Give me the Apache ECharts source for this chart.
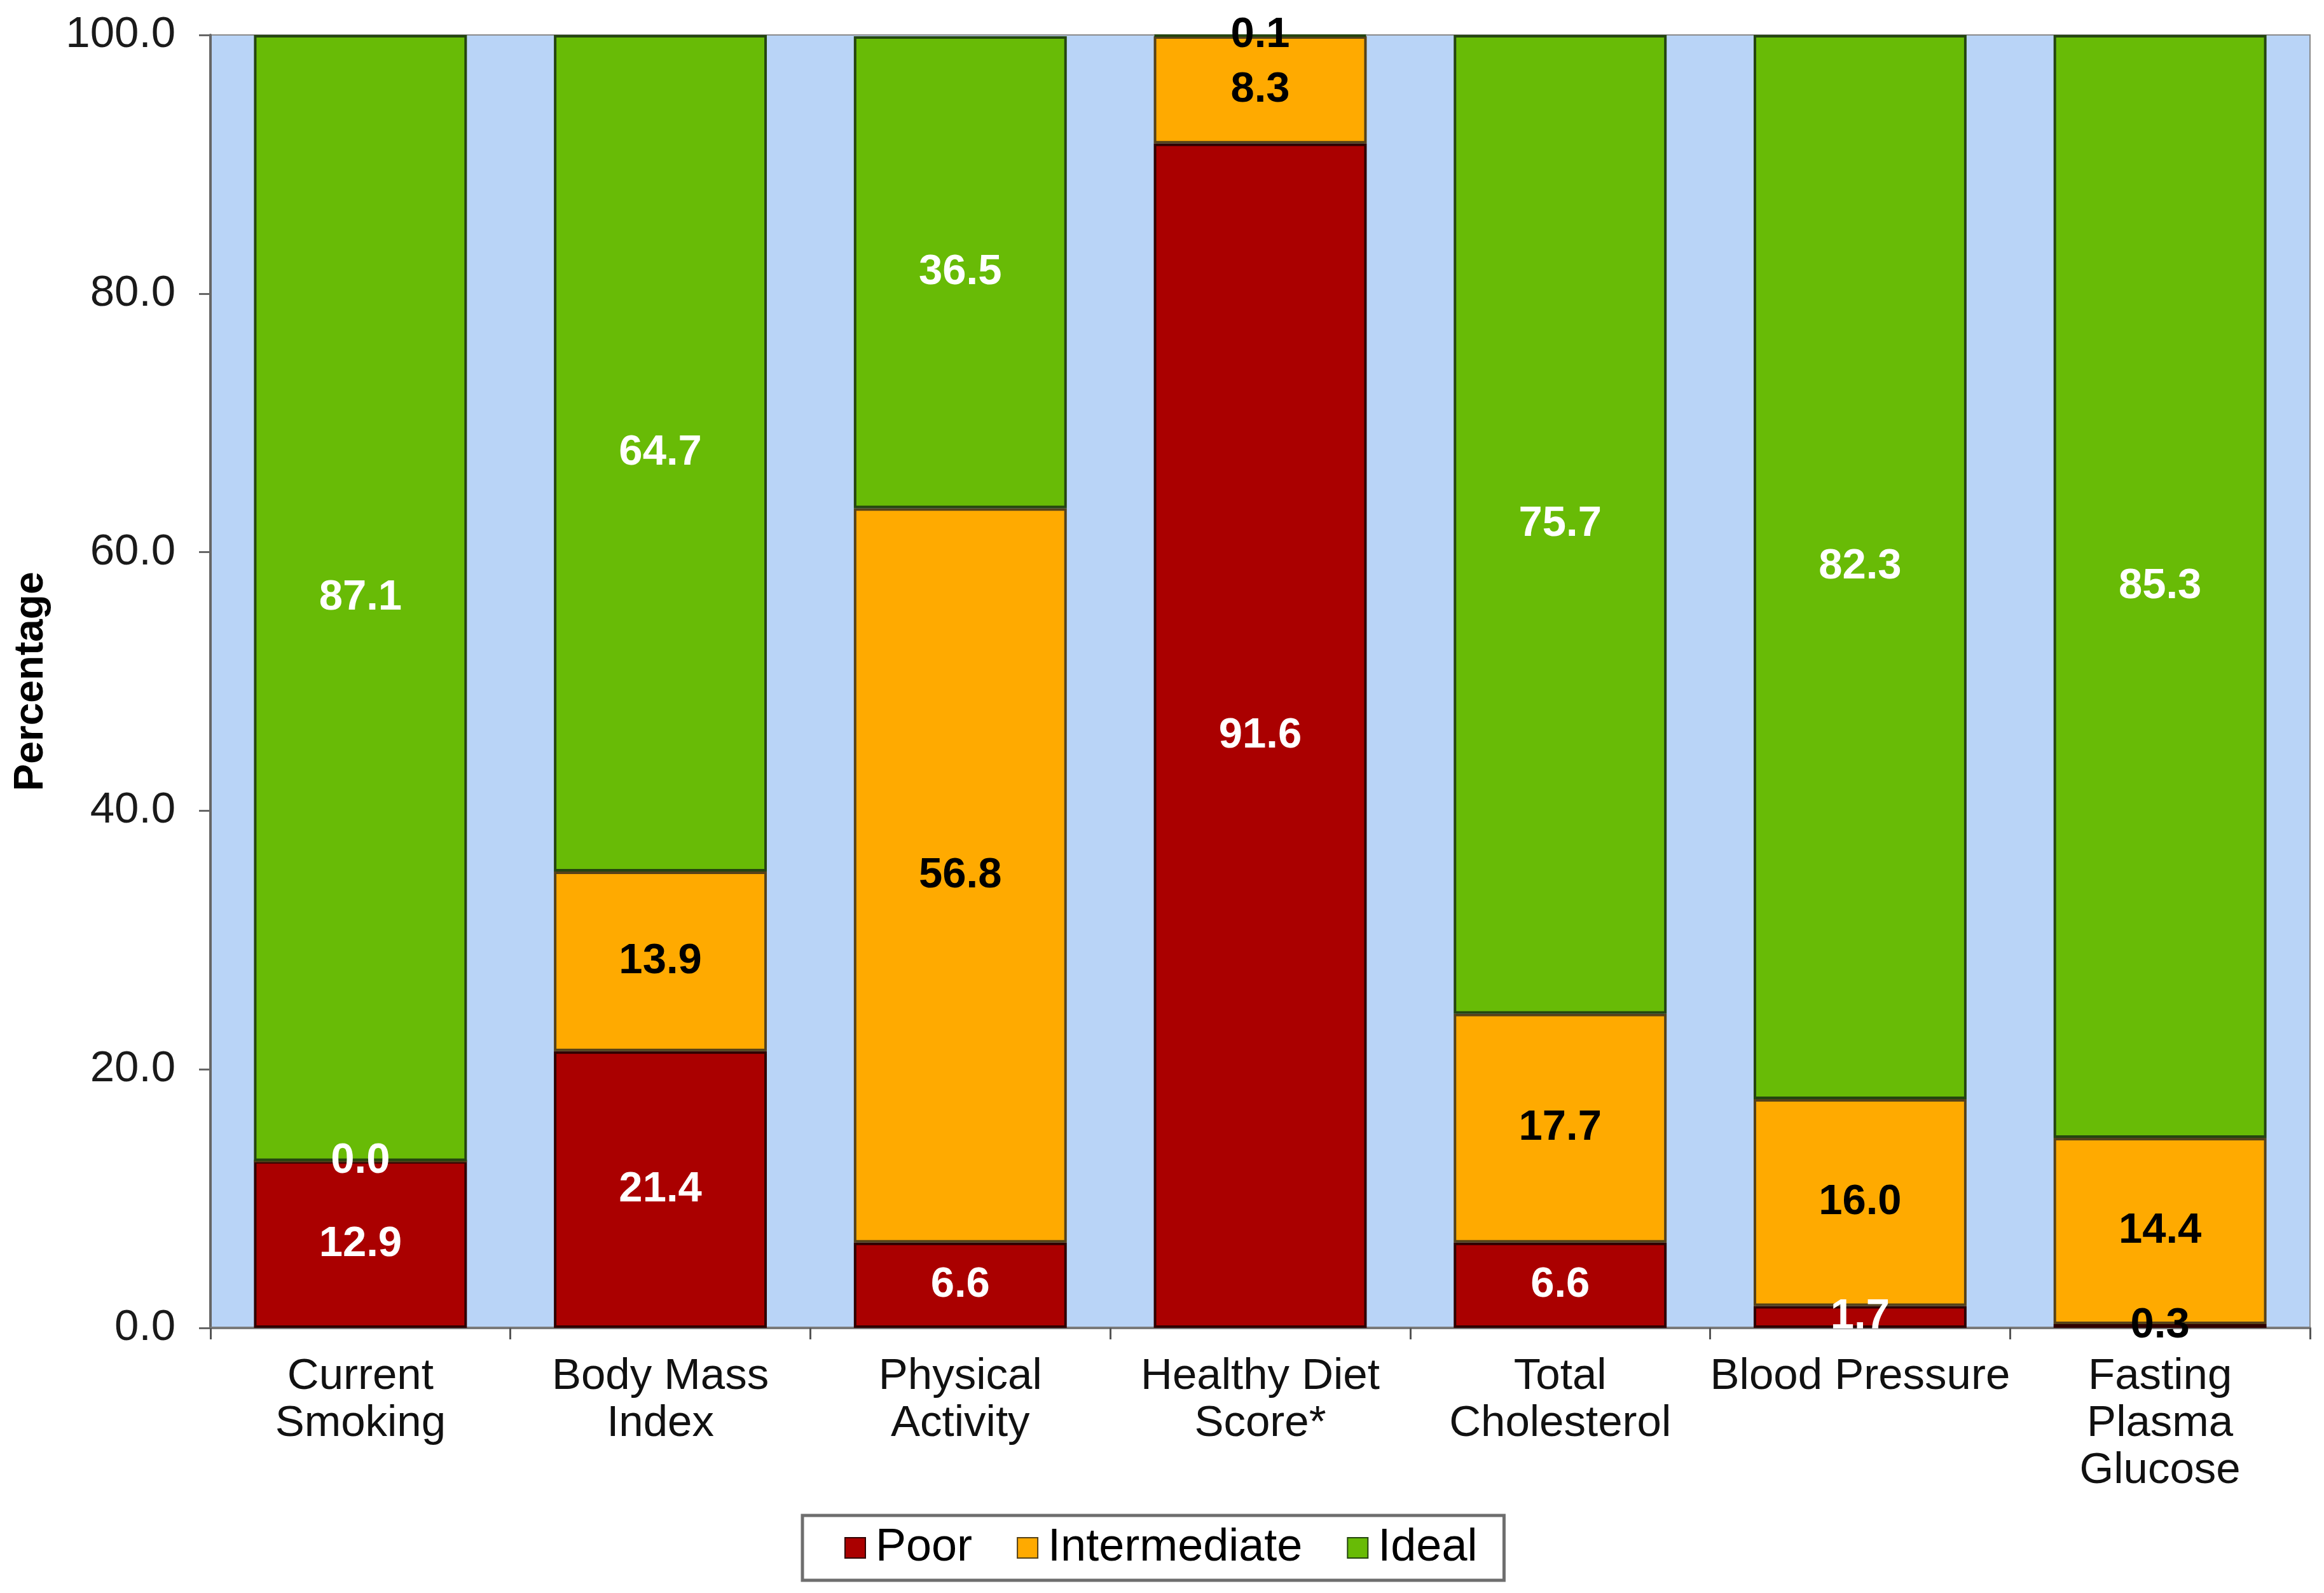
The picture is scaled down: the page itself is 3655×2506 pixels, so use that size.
<!DOCTYPE html>
<html>
<head>
<meta charset="utf-8">
<script src="https://cdn.jsdelivr.net/npm/echarts@6/dist/echarts.min.js"></script>
<style>
html,body{margin:0;padding:0;background:#fff;}
#chart{width:3655px;height:2506px;}
</style>
</head>
<body>
<div id="chart"></div>
<script>
const categories = ['Current\nSmoking', 'Body Mass\nIndex', 'Physical\nActivity', 'Healthy Diet\nScore*', 'Total\nCholesterol', 'Blood Pressure', 'Fasting\nPlasma\nGlucose'];
const poor = [12.9, 21.4, 6.6, 91.6, 6.6, 1.7, 0.3];
const intermediate = [0.0, 13.9, 56.8, 8.3, 17.7, 16.0, 14.4];
const ideal = [87.1, 64.7, 36.5, 0.1, 75.7, 82.3, 85.3];
const yTicks = [0, 20, 40, 60, 80, 100];

const poorLabelColors = ['#fff', '#fff', '#fff', '#fff', '#fff', '#fff', '#000'];
const interLabelColors = ['#fff', '#000', '#000', '#000', '#000', '#000', '#000'];
const idealLabelColors = ['#fff', '#fff', '#fff', '#000', '#fff', '#fff', '#fff'];

const FONT = '"Liberation Sans", Arial, sans-serif';

function makeData(vals, colors) {
  return vals.map((v, i) => ({ value: v, label: { color: colors[i] } }));
}
function series(name, vals, colors, fill, border) {
  return {
    name: name,
    type: 'bar',
    stack: 'total',
    barCategoryGap: '29%',
    data: makeData(vals, colors),
    itemStyle: { color: fill, borderColor: border, borderWidth: 4 },
    label: {
      show: true,
      position: 'inside',
      fontFamily: FONT,
      fontWeight: 'bold',
      fontSize: 67,
      formatter: p => p.value.toFixed(1)
    },
    emphasis: { disabled: true }
  };
}

const chart = echarts.init(document.getElementById('chart'));
chart.setOption({
  animation: false,
  backgroundColor: '#ffffff',
  grid: {
    left: 331, right: 22, top: 55, bottom: 417,
    outerBoundsMode: 'none',
    containLabel: false,
    show: true, backgroundColor: '#B9D4F7', borderColor: '#8a8a8a', borderWidth: 2
  },
  legend: {
    data: ['Poor', 'Intermediate', 'Ideal'],
    left: 1262, top: 2384,
    padding: [15, 42, 15, 66],
    borderColor: '#6e6e6e', borderWidth: 5,
    itemWidth: 32, itemHeight: 32, itemGap: 70,
    icon: 'rect',
    textStyle: { fontFamily: FONT, fontSize: 72, color: '#000', padding: [0, 0, 0, 11] }
  },
  xAxis: {
    type: 'category',
    data: categories,
    axisLine: { lineStyle: { color: '#7a7a7a', width: 4 } },
    axisTick: { show: true, length: 18, lineStyle: { color: '#555', width: 3 } },
    axisLabel: { fontFamily: FONT, fontSize: 69, color: '#111', lineHeight: 74, margin: 40, interval: 0 }
  },
  yAxis: {
    type: 'value',
    min: 0, max: 100, interval: 20,
    name: 'Percentage',
    nameLocation: 'middle',
    nameGap: 250,
    nameTextStyle: { fontFamily: FONT, fontWeight: 'bold', fontSize: 64, color: '#000' },
    axisLine: { show: true, lineStyle: { color: '#666', width: 4 } },
    axisTick: { show: true, length: 18, lineStyle: { color: '#666', width: 3 } },
    splitLine: { show: false },
    axisLabel: {
      fontFamily: FONT, fontSize: 69, color: '#1a1a1a', margin: 55,
      formatter: v => (yTicks.includes(v) ? v.toFixed(1) : '')
    }
  },
  series: [
    series('Poor', poor, poorLabelColors, '#AA0000', '#2e0000'),
    series('Intermediate', intermediate, interLabelColors, '#FFAA00', '#55421a'),
    series('Ideal', ideal, idealLabelColors, '#68BB06', '#244510')
  ]
});
</script>
</body>
</html>
